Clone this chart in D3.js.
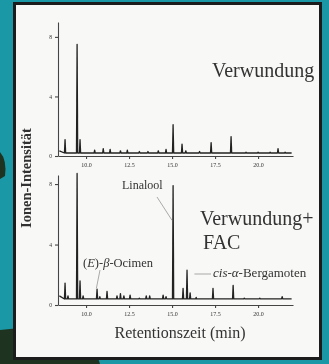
<!DOCTYPE html>
<html>
<head>
<meta charset="utf-8">
<script src="https://cdn.jsdelivr.net/npm/d3@7/dist/d3.min.js"></script>
<style>
  html, body { margin: 0; padding: 0; background: #1b98a5; }
  svg { display: block; }
  text { font-family: "Liberation Serif", "DejaVu Serif", serif; fill: #333; }
</style>
</head>
<body>
<svg id="chart" width="329" height="364"></svg>
<script>
// retention time ticks (min) and intensity ticks
const xTicks = [10, 12.5, 15, 17.5, 20];
const yTicks = [0, 4, 8];

// upper trace: Verwundung
const upperTimes   = [8.78, 9.48, 9.65, 10.5, 11.0, 11.4, 12.0, 12.4, 13.1, 13.6, 14.2, 14.65, 15.06, 15.58, 15.8, 16.6, 17.27, 18.43, 19.3, 20.0, 20.7, 21.16, 21.57];
const upperHeights = [1.1, 7.5, 1.1, 0.4, 0.5, 0.45, 0.35, 0.4, 0.3, 0.3, 0.35, 0.45, 2.1, 0.8, 0.35, 0.3, 0.9, 1.3, 0.25, 0.25, 0.25, 0.5, 0.25];
const upperBase = 0.2;
const upperStart = 0.35;

// lower trace: Verwundung + FAC
const lowerTimes   = [8.78, 8.95, 9.48, 9.65, 9.83, 10.64, 10.8, 11.22, 11.8, 12.0, 12.2, 12.56, 13.1, 13.5, 13.7, 14.48, 14.65, 15.06, 15.64, 15.87, 16.05, 16.4, 17.38, 18.55, 19.2, 20.1, 20.8, 21.4, 21.86];
const lowerHeights = [1.45, 0.6, 8.7, 1.6, 0.6, 1.05, 0.55, 0.9, 0.6, 0.75, 0.6, 0.65, 0.45, 0.6, 0.6, 0.65, 0.55, 7.9, 1.1, 2.3, 0.8, 0.5, 1.1, 1.3, 0.45, 0.45, 0.4, 0.55, 0.4];
const lowerBase = 0.4;
const lowerStart = 0.6;

const svg = d3.select("#chart");

svg.append("defs").append("filter")
  .attr("id", "soft")
  .append("feGaussianBlur").attr("stdDeviation", 0.45);

// photo background: teal screen, dark leaf bottom left
svg.append("rect").attr("width", 329).attr("height", 364).attr("fill", "#1b98a5");
svg.append("path")
  .attr("d", "M0,330 L40,326 L90,333 L100,364 L0,364 Z")
  .attr("fill", "#1e3420");
svg.append("path")
  .attr("d", "M0,152 Q7,160 5,176 L0,179 Z")
  .attr("fill", "#1e3420");

// white slide panel
svg.append("rect")
  .attr("x", 14.5).attr("y", 3.5)
  .attr("width", 306).attr("height", 355)
  .attr("fill", "#f8f8f6")
  .attr("stroke", "#1c1c1c")
  .attr("stroke-width", 3);

const content = svg.append("g").attr("filter", "url(#soft)");

const x = d3.scaleLinear().domain([8.37, 22.03]).range([58, 293]);
const yUp = d3.scaleLinear().domain([0, 9]).range([156, 22]);
const yLo = d3.scaleLinear().domain([0, 8.6]).range([305, 175]);

function tracePoints(times, heights, base, start) {
  const pts = [[8.45, start]];
  times.forEach((t, i) => {
    pts.push([t - 0.035, base], [t, heights[i]], [t + 0.035, base]);
  });
  pts.push([21.95, base]);
  return pts;
}

function drawPanel(y, times, heights, base, start) {
  const g = content.append("g");

  g.append("g")
    .attr("transform", `translate(0,${y(0)})`)
    .call(d3.axisBottom(x).tickValues(xTicks).tickFormat(d3.format(".1f")).tickSize(3).tickSizeOuter(0))
    .call(a => a.selectAll("text").attr("font-size", 6).attr("dy", "0.9em"));

  g.append("g")
    .attr("transform", `translate(${x.range()[0]},0)`)
    .call(d3.axisLeft(y).tickValues(yTicks).tickSize(3).tickSizeOuter(0))
    .call(a => a.selectAll("text").attr("font-size", 5.5));

  g.selectAll(".domain, .tick line").attr("stroke", "#444").attr("stroke-width", 1.1);

  const line = d3.line().x(d => x(d[0])).y(d => y(d[1]));
  g.append("path")
    .datum(tracePoints(times, heights, base, start))
    .attr("d", line)
    .attr("fill", "none")
    .attr("stroke", "#222")
    .attr("stroke-width", 1.3)
    .attr("stroke-linejoin", "round");
}

drawPanel(yUp, upperTimes, upperHeights, upperBase, upperStart);
drawPanel(yLo, lowerTimes, lowerHeights, lowerBase, lowerStart);

// titles in the panels
content.append("text").attr("x", 212).attr("y", 77).attr("font-size", 20).text("Verwundung");
content.append("text").attr("x", 200).attr("y", 225).attr("font-size", 20).text("Verwundung+");
content.append("text").attr("x", 203).attr("y", 249).attr("font-size", 20).text("FAC");

// peak annotations
content.append("text").attr("x", 122).attr("y", 189).attr("font-size", 12).text("Linalool");
content.append("line")
  .attr("x1", 157).attr("y1", 197).attr("x2", x(15.0)).attr("y2", yLo(5.6))
  .attr("stroke", "#888").attr("stroke-width", 0.7);

const oc = content.append("text").attr("x", 83).attr("y", 267).attr("font-size", 12.5);
oc.append("tspan").text("(");
oc.append("tspan").attr("font-style", "italic").text("E");
oc.append("tspan").text(")-");
oc.append("tspan").attr("font-style", "italic").text("β");
oc.append("tspan").text("-Ocimen");
content.append("line")
  .attr("x1", 100).attr("y1", 270).attr("x2", x(10.6)).attr("y2", yLo(1.1))
  .attr("stroke", "#888").attr("stroke-width", 0.7);

const bg = content.append("text").attr("x", 213).attr("y", 277).attr("font-size", 13);
bg.append("tspan").attr("font-style", "italic").text("cis-α-");
bg.append("tspan").text("Bergamoten");
content.append("line")
  .attr("x1", x(16.3)).attr("y1", 274).attr("x2", 211).attr("y2", 274)
  .attr("stroke", "#888").attr("stroke-width", 0.7);

// axis titles
content.append("text")
  .attr("x", 180).attr("y", 338)
  .attr("text-anchor", "middle")
  .attr("font-size", 16)
  .text("Retentionszeit (min)");
content.append("text")
  .attr("transform", "translate(31,178) rotate(-90)")
  .attr("text-anchor", "middle")
  .attr("font-size", 14.5)
  .attr("font-weight", "bold")
  .text("Ionen-Intensität");
</script>
</body>
</html>
